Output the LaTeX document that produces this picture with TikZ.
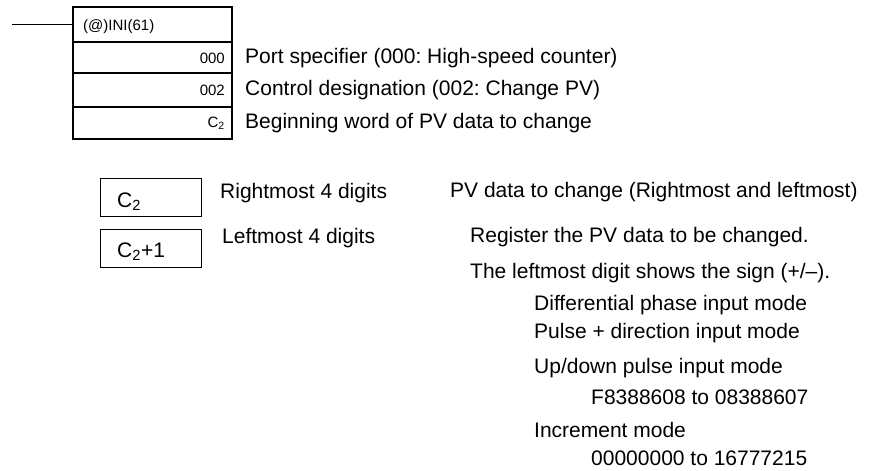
\documentclass[tikz,border=0pt]{standalone}
\usepackage{fontspec}
\setmainfont{Liberation Sans}
\usetikzlibrary{positioning, calc}

\begin{document}
\frenchspacing
\begin{tikzpicture}[
    every node/.style={font=\fontsize{21}{25}\selectfont},
    % pixel coordinates: 871 x 471, y grows downwards
    x=1pt, y=-1pt,
]

% ---------------------------------------------------------------- colours
\definecolor{ink}{HTML}{000000}

\tikzset{
    cell/.style={draw=ink, line width=1.3pt, minimum width=159pt,
                 inner sep=0pt, outer sep=0pt},
    small/.style={font=\fontsize{15}{17}\selectfont, text=ink},
    word/.style={draw=ink, line width=1pt, minimum width=101pt,
                 minimum height=38pt, inner sep=0pt, outer sep=0pt},
    txt/.style={anchor=west, inner sep=0pt, text=ink},
}

\useasboundingbox (0,0) rectangle (871,471);

% ---------------------------------------------------------------- instruction block
\node[cell, minimum height=35pt, anchor=north west] (ini) at (73,7) {};
\node[cell, minimum height=31pt, anchor=north west] (port) at (73,42) {};
\node[cell, minimum height=34pt, anchor=north west] (ctrl) at (73,73) {};
\node[cell, minimum height=32pt, anchor=north west] (beg) at (73,107) {};

\node[small, anchor=west, inner sep=0pt] (ininame) at (83,26.5) {(@)INI(61)};
\node[small, anchor=east, inner sep=0pt] (portval) at (225,58) {000};
\node[small, anchor=east, inner sep=0pt] (ctrlval) at (225,90) {002};
\node[small, anchor=east, inner sep=0pt] (begval) at (225,123) {C\textsubscript{2}};

\coordinate (rung) at (12,24.5);
\draw[ink, line width=1.3pt] (rung) -- (ini.west);

\node[txt] (portlab) at (245,58) {Port specifier (000: High-speed counter)};
\node[txt] (ctrllab) at (245,90) {Control designation (002: Change PV)};
\node[txt] (beglab) at (245,123) {Beginning word of PV data to change};

% ---------------------------------------------------------------- the two words
\node[word, anchor=north west] (lo) at (100,178) {};
\node[word, anchor=north west] (hi) at (100,229) {};
\node[txt] (loname) at (117,202) {C\textsubscript{2}};
\node[txt] (hiname) at (117,252) {C\textsubscript{2}+1};

\node[txt] (lolab) at (220,193) {Rightmost 4 digits};
\node[txt] (hilab) at (222,238) {Leftmost 4 digits};

% ---------------------------------------------------------------- notes
\node[txt] (pvdata) at (450,192) {PV data to change (Rightmost and leftmost)};
\node[txt] (reg) at (470,237) {Register the PV data to be changed.};
\node[txt] (sign) at (470,273) {The leftmost digit shows the sign (+/--).};
\node[txt] (diff) at (534,305) {Differential phase input mode};
\node[txt] (pulse) at (534,333) {Pulse + direction input mode};
\node[txt] (updown) at (534,368) {Up/down pulse input mode};
\node[txt] (udrange) at (591,397) {F8388608 to 08388607};
\node[txt] (incr) at (534,430) {Increment mode};
\node[txt] (incrange) at (591,458) {00000000 to 16777215};

\end{tikzpicture}
\end{document}
